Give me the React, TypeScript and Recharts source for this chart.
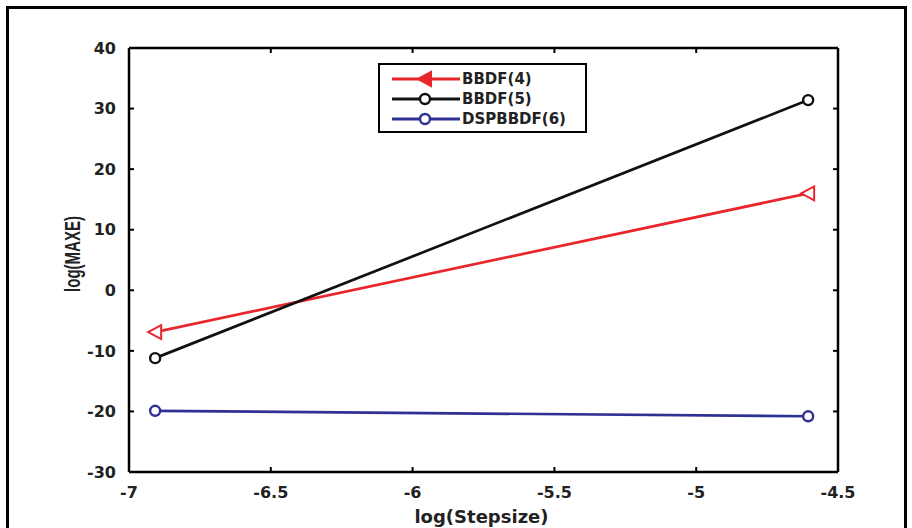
import React from 'react';
import { LineChart, Line, XAxis, YAxis, Legend, Label } from 'recharts';

const stepsizes = [-6.9078, -4.6052];
const bbdf4 = [-6.9, 16.0];
const bbdf5 = [-11.2, 31.4];
const dspbbdf6 = [-19.9, -20.8];
const xTicks = [-7, -6.5, -6, -5.5, -5, -4.5];
const yTicks = [-30, -20, -10, 0, 10, 20, 30, 40];
const seriesKeys = ['b4', 'b5', 'd6'];
const seriesNames = ['BBDF(4)', 'BBDF(5)', 'DSPBBDF(6)'];
const seriesColors = ['#e8262b', '#111111', '#2e3192'];
const seriesMarkers = ['triangle', 'circle', 'circle'];

const data = stepsizes.map((x, i) => ({ x, b4: bbdf4[i], b5: bbdf5[i], d6: dspbbdf6[i] }));

const FONT = 'DejaVu Sans, Verdana, sans-serif';

const BottomTick = (p: any) => (
  <g>
    <line x1={p.x} y1={p.y} x2={p.x} y2={p.y - 5} stroke="#000" strokeWidth={2} />
    <text x={p.x} y={p.y + 26} textAnchor="middle" fontFamily={FONT} fontWeight="bold" fontSize={16} fill="#222">
      {p.payload.value}
    </text>
  </g>
);
const LeftTick = (p: any) => (
  <g>
    <line x1={p.x} y1={p.y} x2={p.x + 5} y2={p.y} stroke="#000" strokeWidth={2} />
    <text x={p.x - 13} y={p.y} dy="0.36em" textAnchor="end" fontFamily={FONT} fontWeight="bold" fontSize={16} fill="#222">
      {p.payload.value}
    </text>
  </g>
);
const TopTick = (p: any) => (
  <line x1={p.x} y1={p.y} x2={p.x} y2={p.y + 5} stroke="#000" strokeWidth={2} />
);
const RightTick = (p: any) => (
  <line x1={p.x} y1={p.y} x2={p.x - 5} y2={p.y} stroke="#000" strokeWidth={2} />
);

const Marker = ({ kind, cx, cy, color, filled }: any) => {
  if (kind === 'triangle') {
    return (
      <path
        d={`M${cx - 7},${cy} L${cx + 6},${cy - 7} L${cx + 6},${cy + 7} Z`}
        fill={filled ? color : '#fff'}
        stroke={color}
        strokeWidth={2}
      />
    );
  }
  return <circle cx={cx} cy={cy} r={5} fill={filled ? color : '#fff'} stroke={color} strokeWidth={2.4} />;
};

const makeDot = (i: number) => (p: any) => (
  <Marker key={`${seriesKeys[i]}-${p.index}`} kind={seriesMarkers[i]} cx={p.cx} cy={p.cy} color={seriesColors[i]} />
);

const LegendBox = () => (
  <div
    style={{
      width: 209,
      height: 70,
      boxSizing: 'border-box',
      border: '2px solid #000',
      background: '#fff',
      position: 'relative',
    }}
  >
    <svg width={205} height={66} style={{ position: 'absolute', left: 0, top: 0 }}>
      {seriesNames.map((name, i) => {
        const y = 14 + i * 20;
        return (
          <g key={name}>
            <line x1={12} y1={y} x2={80} y2={y} stroke={seriesColors[i]} strokeWidth={3} />
            <Marker kind={seriesMarkers[i]} cx={45} cy={y} color={seriesColors[i]} filled={i === 0} />
            <text x={82} y={y} dy="0.36em" fontFamily={FONT} fontWeight="bold" fontSize={15} fill="#222">
              {name}
            </text>
          </g>
        );
      })}
    </svg>
  </div>
);

const XLabel = (p: any) => {
  const vb = p.viewBox;
  return (
    <text x={vb.x + vb.width / 2 - 2} y={vb.y + 51} textAnchor="middle" fontFamily={FONT} fontWeight="bold" fontSize={18} fill="#222">
      log(Stepsize)
    </text>
  );
};
const YLabel = (p: any) => {
  const vb = p.viewBox;
  const cx = vb.x + 3;
  const cy = vb.y + vb.height / 2 - 6;
  return (
    <g transform={`translate(${cx},${cy}) rotate(-90) scale(1,1.45)`}>
      <text x={0} y={0} dy="0.36em" textAnchor="middle" fontFamily="Liberation Sans, Arial, sans-serif" fontWeight="bold" fontSize={15} fill="#222">
        log(MAXE)
      </text>
    </g>
  );
};

export default function App() {
  return (
    <div style={{ position: 'absolute', left: 0, top: 0, width: 912, height: 528, background: '#fff', overflow: 'hidden' }}>
      <div
        style={{
          position: 'absolute',
          left: 6,
          top: 6,
          width: 901,
          height: 540,
          border: '3px solid #000',
          boxSizing: 'border-box',
        }}
      />
      <div style={{ position: 'absolute', left: 0, top: 0 }}>
        <LineChart width={912} height={528} data={data} margin={{ top: 47, right: 73, left: 69, bottom: 26 }}>
          <XAxis
            xAxisId="b"
            dataKey="x"
            type="number"
            domain={[-7, -4.5]}
            ticks={xTicks}
            interval={0}
            height={30}
            tickSize={0}
            tickMargin={0}
            tick={BottomTick}
            tickLine={false}
            axisLine={{ stroke: '#000', strokeWidth: 2.5 }}
            allowDataOverflow
          >
            <Label content={XLabel} />
          </XAxis>
          <XAxis
            xAxisId="t"
            orientation="top"
            dataKey="x"
            type="number"
            domain={[-7, -4.5]}
            ticks={xTicks}
            interval={0}
            height={1}
            tickSize={0}
            tickMargin={0}
            tick={TopTick}
            tickLine={false}
            axisLine={{ stroke: '#000', strokeWidth: 2.5 }}
            allowDataOverflow
          />
          <YAxis
            yAxisId="l"
            type="number"
            domain={[-30, 40]}
            ticks={yTicks}
            interval={0}
            width={60}
            tickSize={0}
            tickMargin={0}
            tick={LeftTick}
            tickLine={false}
            axisLine={{ stroke: '#000', strokeWidth: 2.5 }}
            allowDataOverflow
          >
            <Label content={YLabel} />
          </YAxis>
          <YAxis
            yAxisId="r"
            orientation="right"
            type="number"
            domain={[-30, 40]}
            ticks={yTicks}
            interval={0}
            width={1}
            tickSize={0}
            tickMargin={0}
            tick={RightTick}
            tickLine={false}
            axisLine={{ stroke: '#000', strokeWidth: 2.5 }}
            allowDataOverflow
          />
          {seriesKeys.map((k, i) => (
            <Line
              key={k}
              xAxisId="b"
              yAxisId="l"
              type="linear"
              dataKey={k}
              name={seriesNames[i]}
              stroke={seriesColors[i]}
              strokeWidth={2.7}
              dot={makeDot(i)}
              activeDot={false}
              isAnimationActive={false}
            />
          ))}
          <Legend
            layout="vertical"
            align="center"
            verticalAlign="middle"
            content={LegendBox}
            wrapperStyle={{ position: 'absolute', left: 378, top: 63, width: 209, height: 70 }}
          />
        </LineChart>
      </div>
    </div>
  );
}
